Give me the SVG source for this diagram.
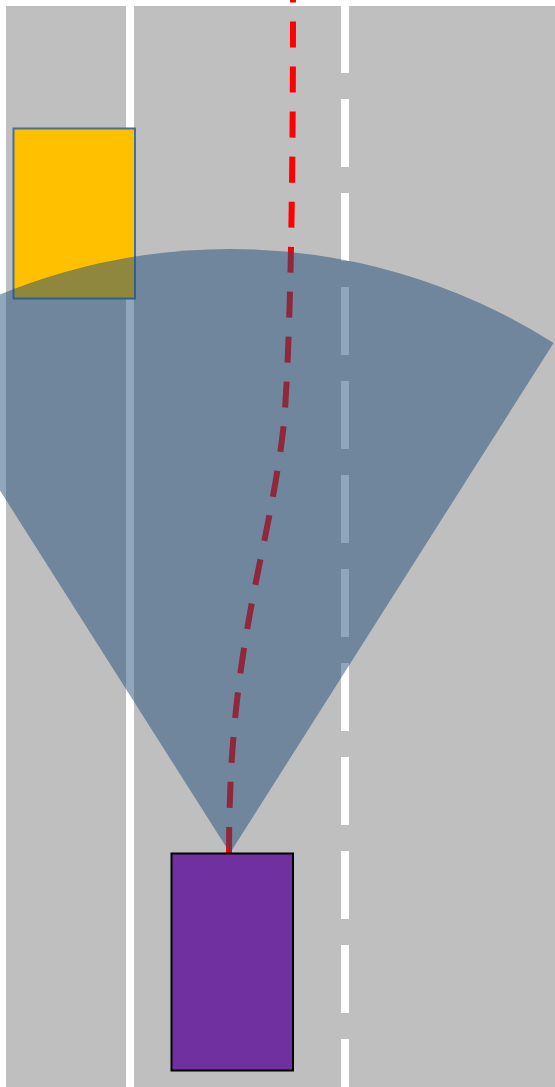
<svg xmlns="http://www.w3.org/2000/svg" width="555" height="1087" viewBox="0 0 555 1087">
  <style>
    .lane { stroke: #FFFFFF; stroke-width: 8; fill: none; }
    .path { stroke: #FF0000; stroke-width: 6; fill: none; stroke-dasharray: 26 19; }
    .fov { fill: #1F4E79; fill-opacity: 0.5; stroke: none; }
  </style>
  <rect x="0" y="0" width="555" height="1087" fill="#FFFFFF"/>
  <g id="road">
    <rect x="6" y="6" width="549" height="1081" fill="#BFBFBF"/>
    <line class="lane" x1="130" y1="6" x2="130" y2="1087"/>
    <line class="lane" x1="345" y1="5" x2="345" y2="1087" stroke-dasharray="68 26"/>
  </g>
  <g id="obstacle">
    <rect x="13.5" y="128.5" width="121.5" height="170" fill="#FFC000" stroke="#41719C" stroke-width="2"/>
  </g>
  <g id="connectors">
    <path class="path" d="M229,853 C229,733 241,652 262,552 C270.4,512 282.4,450 285,410 C291.5,310 293,150 293,0"/>
  </g>
  <g id="ego-car">
    <rect x="171.5" y="853.5" width="121.5" height="217" fill="#7030A0" stroke="#000000" stroke-width="2"/>
  </g>
  <g id="field-of-view">
    <path class="fov" d="M230,853 L-93.6,343 A604,604 0 0,1 553.6,343 Z"/>
  </g>
</svg>
